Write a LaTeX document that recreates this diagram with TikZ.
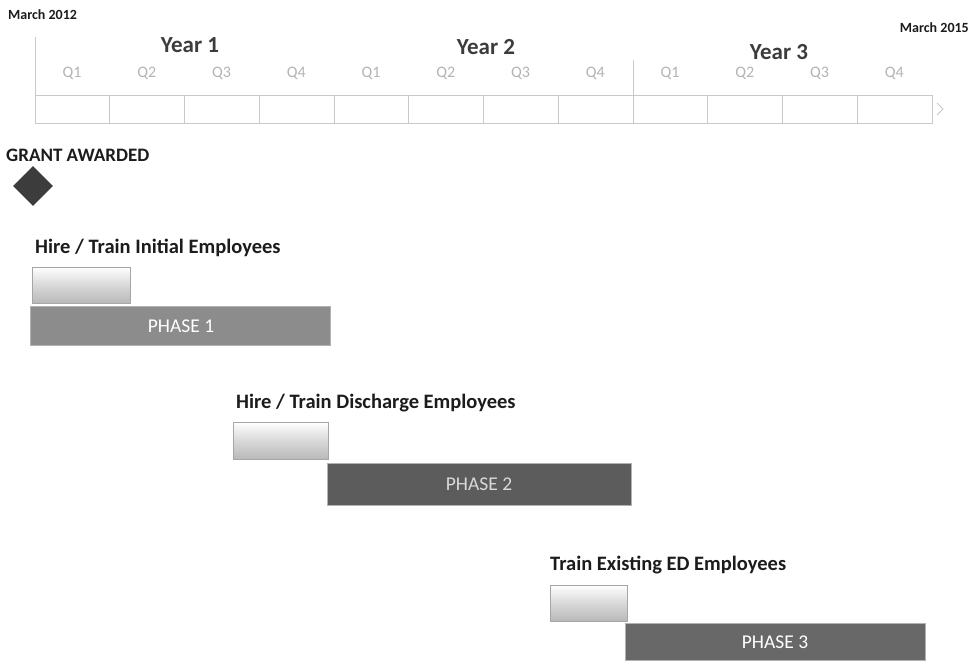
\documentclass[tikz,border=0pt]{standalone}
\usepackage{fontspec}
\setmainfont{Carlito}
\usetikzlibrary{shapes.geometric}
\definecolor{gridgray}{HTML}{C8C8C8}
\definecolor{qgray}{HTML}{B4B4B4}
\definecolor{inkgray}{HTML}{3C3C3C}
\definecolor{inkdark}{HTML}{1C1C1C}
\definecolor{phaseone}{HTML}{8C8C8C}
\definecolor{phasetwo}{HTML}{5C5C5C}
\definecolor{phasethree}{HTML}{686868}
\tikzset{
  datelbl/.style={font=\bfseries\fontsize{14}{16}\selectfont,text=inkdark,inner sep=0pt},
  yearlbl/.style={font=\bfseries\fontsize{23}{26}\selectfont,text=inkgray,inner sep=0pt},
  qlbl/.style={font=\fontsize{16}{18}\selectfont,text=qgray,inner sep=0pt},
  tasklbl/.style={font=\bfseries\fontsize{20.5}{23}\selectfont,text=inkdark,anchor=west,inner sep=0pt},
  prepbox/.style={draw=gray!70,line width=1pt,top color=white,bottom color=gray!55,middle color=gray!30},
  phasebar/.style={draw=gray!60,line width=0.6pt},
  phaselbl/.style={font=\fontsize{19.5}{22}\selectfont,inner sep=0pt}
}
\begin{document}
\begin{tikzpicture}[x=1pt,y=-1pt]
  \useasboundingbox[fill=white] (0,0) rectangle (972,662);
  % timeline
  \node[datelbl,anchor=west] (start) at (8,15) {March 2012};
  \node[datelbl,anchor=east] (stop) at (969,28) {March 2015};
  \node[yearlbl] (y1) at (190,45) {Year 1};
  \node[yearlbl] (y2) at (486,47) {Year 2};
  \node[yearlbl] (y3) at (779,52) {Year 3};
  \draw[gridgray,line width=0.8pt] (35,37)--(35,123);
  \draw[gridgray,line width=0.8pt] (633,60)--(633,123);
  \draw[gridgray,line width=0.8pt] (35,95) rectangle (932,123);
  \foreach \i in {1,...,11}
    \draw[gridgray,line width=0.8pt] ({35+\i*74.75},95)--({35+\i*74.75},123);
  \draw[gridgray,line width=0.8pt] (937,103)--(943,109)--(937,115);
  \foreach \q [count=\i from 0] in {1,2,3,4,1,2,3,4,1,2,3,4}
    \node[qlbl] (q\i) at ({72+\i*74.75},73) {Q\q};
  % grant
  \node[datelbl,font=\bfseries\fontsize{19}{21}\selectfont,anchor=west] (grant) at (6,155) {GRANT AWARDED};
  \node[diamond,fill=inkgray,minimum size=40pt,inner sep=0pt] (gmark) at (33,186) {};
  % phase 1
  \node[tasklbl] (t1) at (35,248) {Hire / Train Initial Employees};
  \fill[prepbox] (32,267) rectangle (130,303);
  \fill[phasebar,fill=phaseone] (30,306) rectangle (330,345);
  \node[phaselbl,text=white] (p1) at (181,326) {PHASE 1};
  % phase 2
  \node[tasklbl] (t2) at (236,403) {Hire / Train Discharge Employees};
  \fill[prepbox] (233,422) rectangle (328,459);
  \fill[phasebar,fill=phasetwo] (327,463) rectangle (631,505);
  \node[phaselbl,text=gray!30] (p2) at (479,484) {PHASE 2};
  % phase 3
  \node[tasklbl] (t3) at (550,565) {Train Existing ED Employees};
  \fill[prepbox] (550,585) rectangle (627,621);
  \fill[phasebar,fill=phasethree] (625,623) rectangle (925,660);
  \node[phaselbl,text=white] (p3) at (775,642) {PHASE 3};
\end{tikzpicture}
\end{document}
